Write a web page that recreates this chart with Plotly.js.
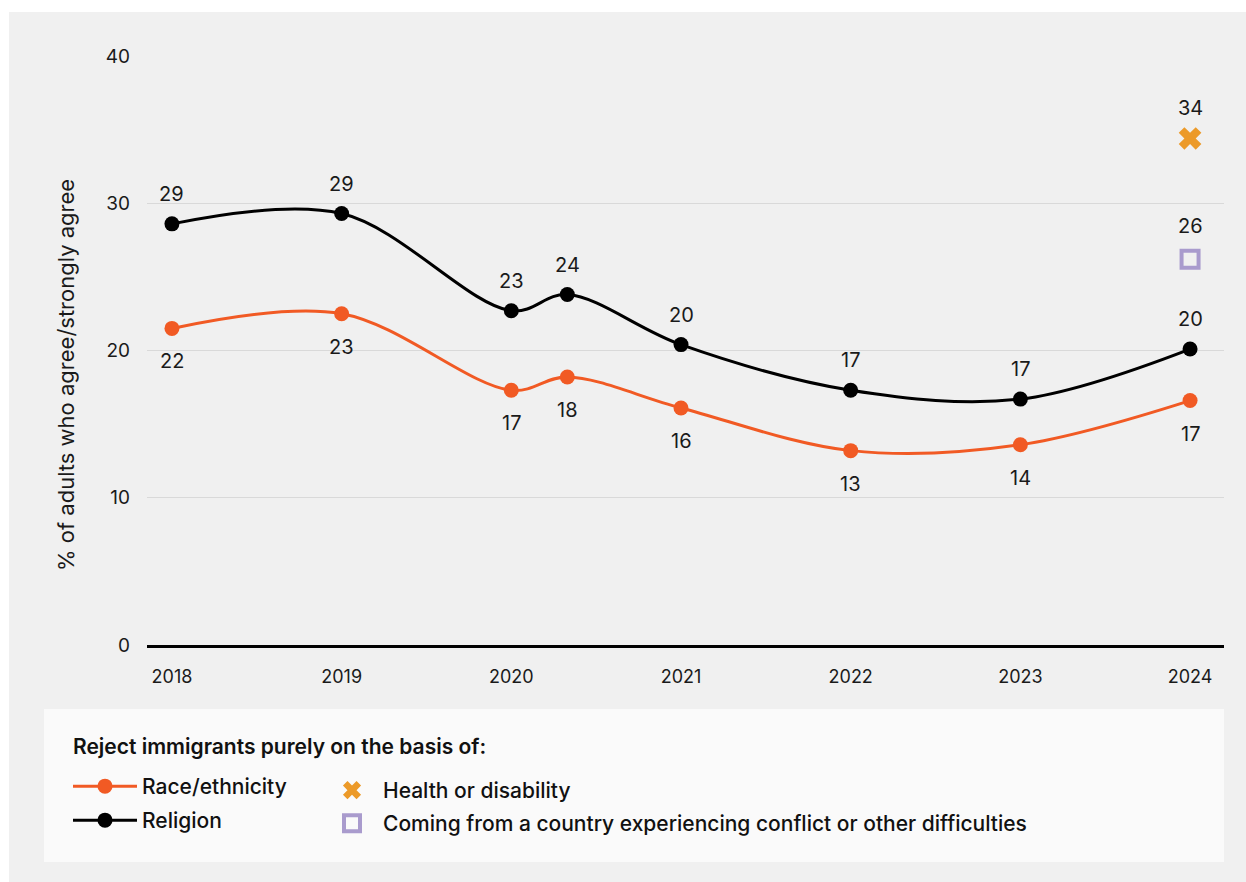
<!DOCTYPE html>
<html>
<head>
<meta charset="utf-8">
<script src="https://cdn.plot.ly/plotly-3.0.1.min.js"></script>
<style>
  html, body { margin: 0; padding: 0; background: #ffffff; }
  #chart { position: absolute; left: 9px; top: 12px; width: 1237px; height: 870px; }
</style>
</head>
<body>
<div id="chart"></div>
<script>
// ---- Data ----
const years = [2018, 2019, 2020, 2020.33, 2021, 2022, 2023, 2024];
const religion = [28.6, 29.3, 22.7, 23.8, 20.4, 17.3, 16.7, 20.1];
const religionLabels = ['29', '29', '23', '24', '20', '17', '17', '20'];
const race = [21.5, 22.5, 17.3, 18.2, 16.1, 13.2, 13.6, 16.6];
const raceLabels = ['22', '23', '17', '18', '16', '13', '14', '17'];
const healthYear = [2024];
const health = [34.4];
const healthLabels = ['34'];
const conflictYear = [2024];
const conflict = [26.2];
const conflictLabels = ['26'];
const xTicks = [2018, 2019, 2020, 2021, 2022, 2023, 2024];
const xTickText = ['2018', '2019', '2020', '2021', '2022', '2023', '2024'];
const yTicks = [0, 10, 20, 30, 40];
const seriesNames = ['Race/ethnicity', 'Religion', 'Health or disability',
  'Coming from a country experiencing conflict or other difficulties'];
const legendTitle = 'Reject immigrants purely on the basis of:';
const yTitle = '% of adults who agree/strongly agree';

// ---- Styles ----
const FONT = 'Inter, "Liberation Sans", Arial, sans-serif';
const ORANGE = '#f15a24';
const BLACK = '#000000';
const GOLD = '#ec9a29';
const PURPLE = '#a99bcd';
const W = 1237, H = 870;
const ML = 138, MR = 22, MT = 44, MB = 237;
const PW = W - ML - MR, PH = H - MT - MB;
// convert div pixel coordinates to paper fractions
const px = (xDiv) => (xDiv - ML) / PW;
const py = (yDiv) => 1 - (yDiv - MT) / PH;

const traces = [
  {
    x: years, y: race, name: seriesNames[0], type: 'scatter', mode: 'lines+markers',
    line: { color: ORANGE, width: 3, shape: 'spline', smoothing: 1 },
    marker: { color: ORANGE, size: 15 },
    legend: 'legend', hoverinfo: 'skip'
  },
  {
    x: years, y: religion, name: seriesNames[1], type: 'scatter', mode: 'lines+markers',
    line: { color: BLACK, width: 3, shape: 'spline', smoothing: 1 },
    marker: { color: BLACK, size: 15 },
    legend: 'legend2', hoverinfo: 'skip'
  },
  {
    x: healthYear, y: health, name: seriesNames[2], type: 'scatter', mode: 'markers',
    marker: { color: GOLD, size: 20, symbol: 'x' },
    legend: 'legend3', hoverinfo: 'skip'
  },
  {
    x: conflictYear, y: conflict, name: seriesNames[3], type: 'scatter', mode: 'markers',
    marker: { color: PURPLE, size: 17, symbol: 'square-open', line: { color: PURPLE, width: 4 } },
    legend: 'legend4', hoverinfo: 'skip'
  }
];

const annotations = [];
function addLabels(xs, ys, labels, shift) {
  for (let i = 0; i < xs.length; i++) {
    annotations.push({
      x: xs[i], y: ys[i], xref: 'x', yref: 'y', text: labels[i], showarrow: false,
      yshift: shift, font: { family: FONT, size: 20, color: '#1a1a1a' }
    });
  }
}
addLabels(years, religion, religionLabels, 30);
addLabels(years, race, raceLabels, -33);
addLabels(healthYear, health, healthLabels, 30);
addLabels(conflictYear, conflict, conflictLabels, 33);

// y axis title
annotations.push({
  xref: 'paper', yref: 'paper', x: px(57), y: py(363), textangle: -90,
  xanchor: 'center', yanchor: 'middle', showarrow: false, text: yTitle,
  font: { family: FONT, size: 22, color: '#1a1a1a' }
});

// legend title
annotations.push({
  xref: 'paper', yref: 'paper', x: px(62), y: py(734),
  xanchor: 'left', yanchor: 'middle', showarrow: false, text: legendTitle,
  font: { family: FONT, size: 21, color: '#111', weight: 600 }
});

const legendFont = { family: FONT, size: 21, color: '#111', weight: 500 };
function legendAt(xDiv, topDiv, itemwidth) {
  return {
    xref: 'container', yref: 'container', x: xDiv / W, y: 1 - topDiv / H,
    xanchor: 'left', yanchor: 'top', orientation: 'v', bgcolor: 'rgba(0,0,0,0)',
    font: legendFont, itemwidth: itemwidth, tracegroupgap: 0
  };
}

const layout = {
  width: W, height: H,
  paper_bgcolor: '#f0f0f0', plot_bgcolor: '#f0f0f0',
  margin: { l: ML, r: MR, t: MT, b: MB, autoexpand: false },
  font: { family: FONT, color: '#1a1a1a' },
  showlegend: true,
  xaxis: {
    range: [2017.853, 2024.2], tickvals: xTicks, ticktext: xTickText,
    showgrid: false, zeroline: false, showline: true, linecolor: '#000', linewidth: 3,
    ticks: '', ticklabelstandoff: 13, tickfont: { family: FONT, size: 18, color: '#1a1a1a' },
    fixedrange: true
  },
  yaxis: {
    range: [0, 40], tickvals: yTicks, showgrid: true, gridcolor: '#d9d9d9', gridwidth: 1,
    zeroline: false, showline: false, ticks: '', ticklabelstandoff: 16,
    tickfont: { family: FONT, size: 19, color: '#1a1a1a' },
    automargin: false, fixedrange: true
  },
  legend: legendAt(59, 754, 64),
  legend2: legendAt(59, 788, 64),
  legend3: legendAt(312, 758, 52),
  legend4: legendAt(312, 791, 52),
  shapes: [
    { type: 'rect', xref: 'paper', yref: 'paper', layer: 'below',
      x0: px(35), x1: 1, y0: py(850), y1: py(697),
      fillcolor: '#fafafa', line: { width: 0 } }
  ],
  annotations: annotations
};

Plotly.newPlot('chart', traces, layout, { displayModeBar: false, staticPlot: true });
</script>
</body>
</html>
